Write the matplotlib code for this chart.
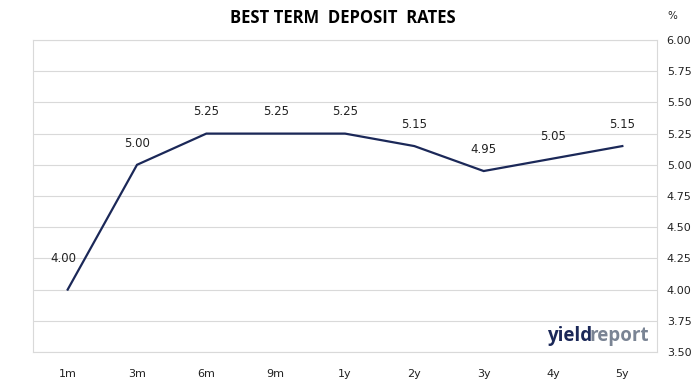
import matplotlib
matplotlib.use("Agg")
import matplotlib.pyplot as plt
from matplotlib.ticker import FixedLocator

categories = ["1m", "3m", "6m", "9m", "1y", "2y", "3y", "4y", "5y"]
rates = [4.00, 5.00, 5.25, 5.25, 5.25, 5.15, 4.95, 5.05, 5.15]
yticks = [3.50, 3.75, 4.00, 4.25, 4.50, 4.75, 5.00, 5.25, 5.50, 5.75, 6.00]

navy = "#1b2858"
fig = plt.figure(figsize=(6.99, 3.85), dpi=100)
ax = fig.add_axes([33/699, 1-352/385, (657-33)/699, (352-40)/385])

x = list(range(len(categories)))
ax.plot(x, rates, color=navy, lw=1.6, solid_joinstyle="miter")
for xi, v in zip(x, rates):
    off = 18 if xi == 0 else 11
    ax.annotate(f"{v:.2f}", (xi, v), xytext=(-3 if xi == 0 else 0, off), textcoords="offset points",
                ha="center", va="bottom", fontsize=8.5, color="#222222", family="DejaVu Sans")

ax.set_xlim(-0.5, len(categories)-0.5)
ax.set_ylim(3.5, 6.0)
ax.set_xticks(x)
ax.set_xticklabels(categories)
ax.yaxis.set_major_locator(FixedLocator(yticks))
ax.set_yticklabels([f"{t:.2f}" for t in yticks])
ax.yaxis.tick_right()
ax.tick_params(axis="both", length=0, labelsize=8, colors="#222222")
ax.tick_params(axis="x", pad=12)
ax.tick_params(axis="y", pad=7)
ax.grid(axis="y", color="#d9d9d9", lw=0.8)
for s in ax.spines.values():
    s.set_color("#d9d9d9")
    s.set_linewidth(0.8)

fig.text(343/699, 1-18/385, "BEST TERM  DEPOSIT  RATES", ha="center", va="center",
         fontsize=12, fontweight="bold", family="Open Sans", color="#000000")
fig.text(672/699, 1-16/385, "%", ha="center", va="center", fontsize=7.5, color="#222222")

# logo
t1 = fig.text(547/699, 1-341/385, "yield", ha="left", va="baseline", fontsize=13.5,
              fontweight="bold", family="Open Sans", color=navy)
fig.canvas.draw()
bb = t1.get_window_extent()
fig.text((bb.x1 - 2.5)/699, 1-341/385, "report", ha="left", va="baseline", fontsize=13.5,
         fontweight="bold", family="Open Sans", color="#7a8494")

fig.savefig("out.png", dpi=100)
